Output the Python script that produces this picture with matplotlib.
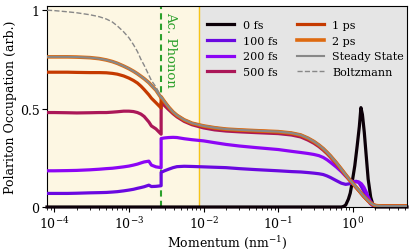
import matplotlib
matplotlib.use("Agg")
import matplotlib.pyplot as plt

plt.rcParams['font.family'] = ['DejaVu Serif']
plt.rcParams['mathtext.fontset'] = 'dejavuserif'
plt.rcParams['font.size'] = 9

# momentum grid (nm^-1), the phonon step appears twice
k = [8e-5, 1e-4, 1.5e-4, 2e-4, 3e-4, 4e-4, 5e-4, 6e-4, 7e-4, 8.5e-4,
     1e-3, 1.15e-3, 1.3e-3, 1.45e-3, 1.6e-3, 1.85e-3, 2.0e-3, 2.3e-3, 2.7e-3,
     2.7e-3, 3.0e-3, 3.4e-3, 3.9e-3, 4.4e-3, 5.5e-3, 7e-3,
     1e-2, 1.4e-2, 2e-2, 3e-2, 5e-2,
     0.1, 0.15, 0.2, 0.25, 0.3, 0.35, 0.4, 0.45, 0.5, 0.6, 0.7, 0.8, 0.9,
     1.0, 1.1, 1.2, 1.3, 1.4, 1.5, 1.6, 1.7, 1.8, 1.9, 2.0, 2.2, 2.5, 5.3]

occ_100fs = [0.069, 0.069, 0.069, 0.070, 0.072, 0.073, 0.074, 0.076, 0.078, 0.082,
             0.086, 0.090, 0.095, 0.099, 0.103, 0.111, 0.104, 0.105, 0.108,
             0.176, 0.184, 0.192, 0.200, 0.205, 0.207, 0.206,
             0.204, 0.202, 0.200, 0.195, 0.190,
             0.184, 0.180, 0.178, 0.175, 0.172, 0.169, 0.165, 0.158, 0.150, 0.134, 0.121, 0.115, 0.118,
             0.125, 0.131, 0.125, 0.103, 0.080, 0.058, 0.035, 0.018, 0.010, 0.007, 0.006, 0.005, 0.005, 0.005]
occ_200fs = [0.184, 0.184, 0.185, 0.186, 0.189, 0.192, 0.195, 0.197, 0.200, 0.204,
             0.208, 0.213, 0.218, 0.224, 0.229, 0.233, 0.213, 0.204, 0.200,
             0.348, 0.351, 0.353, 0.354, 0.353, 0.347, 0.342,
             0.336, 0.327, 0.318, 0.310, 0.302,
             0.292, 0.283, 0.277, 0.272, 0.267, 0.261, 0.252, 0.240, 0.227, 0.203, 0.180, 0.157, 0.139,
             0.129, 0.128, 0.127, 0.118, 0.101, 0.078, 0.052, 0.031, 0.018, 0.011, 0.007, 0.006, 0.005, 0.005]
occ_500fs = [0.480, 0.480, 0.479, 0.478, 0.479, 0.480, 0.480, 0.482, 0.484, 0.487,
             0.487, 0.485, 0.480, 0.472, 0.460, 0.432, 0.412, 0.397, 0.370,
             0.530, 0.515, 0.495, 0.474, 0.458, 0.435, 0.418,
             0.402, 0.392, 0.386, 0.382, 0.378,
             0.373, 0.366, 0.356, 0.340, 0.324, 0.307, 0.289, 0.271, 0.253, 0.219, 0.188, 0.160, 0.136,
             0.117, 0.099, 0.083, 0.067, 0.053, 0.041, 0.030, 0.021, 0.015, 0.010, 0.007, 0.006, 0.005, 0.005]
occ_1ps = [0.685, 0.685, 0.685, 0.684, 0.683, 0.683, 0.682, 0.679, 0.675, 0.666,
           0.655, 0.643, 0.630, 0.614, 0.597, 0.570, 0.553, 0.530, 0.503,
           0.555, 0.533, 0.506, 0.481, 0.464, 0.441, 0.424,
           0.410, 0.401, 0.394, 0.390, 0.386,
           0.381, 0.374, 0.364, 0.348, 0.331, 0.313, 0.295, 0.276, 0.258, 0.223, 0.191, 0.163, 0.139,
           0.119, 0.101, 0.084, 0.068, 0.054, 0.042, 0.031, 0.022, 0.015, 0.010, 0.007, 0.006, 0.005, 0.005]
occ_2ps = [0.763, 0.763, 0.763, 0.762, 0.759, 0.754, 0.747, 0.739, 0.730, 0.716,
           0.703, 0.690, 0.677, 0.664, 0.652, 0.632, 0.618, 0.594, 0.555,
           0.560, 0.535, 0.508, 0.483, 0.466, 0.443, 0.426,
           0.412, 0.403, 0.396, 0.392, 0.388,
           0.383, 0.376, 0.366, 0.350, 0.333, 0.315, 0.297, 0.278, 0.260, 0.225, 0.193, 0.164, 0.140,
           0.120, 0.102, 0.085, 0.069, 0.055, 0.043, 0.032, 0.023, 0.016, 0.011, 0.008, 0.006, 0.005, 0.005]
occ_steady = [0.763, 0.763, 0.763, 0.762, 0.759, 0.754, 0.747, 0.739, 0.730, 0.716,
              0.703, 0.690, 0.677, 0.664, 0.652, 0.632, 0.618, 0.594, 0.555,
              0.560, 0.535, 0.508, 0.483, 0.466, 0.443, 0.426,
              0.412, 0.403, 0.396, 0.392, 0.388,
              0.383, 0.376, 0.366, 0.350, 0.333, 0.315, 0.297, 0.278, 0.260, 0.225, 0.193, 0.164, 0.140,
              0.120, 0.102, 0.085, 0.069, 0.055, 0.043, 0.032, 0.023, 0.016, 0.011, 0.008, 0.006, 0.005, 0.005]

# initial pump (0 fs)
k_0fs = [8e-5, 0.7, 0.75, 0.8, 0.87, 0.92, 0.96, 1.0, 1.06, 1.14, 1.22, 1.28,
         1.34, 1.42, 1.5, 1.6, 1.73, 1.87, 2.0, 5.3]
occ_0fs = [0, 0, 0.003, 0.01, 0.04, 0.07, 0.108, 0.15, 0.21, 0.31, 0.41, 0.505,
           0.47, 0.38, 0.27, 0.142, 0.05, 0.007, 0, 0]

k_boltz = [8e-5, 1e-4, 1.5e-4, 2e-4, 3e-4, 4e-4, 5e-4, 6e-4, 7e-4, 8.5e-4,
           1e-3, 1.15e-3, 1.3e-3, 1.45e-3, 1.6e-3, 1.85e-3, 2.0e-3, 2.3e-3, 2.7e-3]
occ_boltz = [1.0, 0.998, 0.992, 0.987, 0.977, 0.967, 0.955, 0.94, 0.92, 0.89,
             0.86, 0.825, 0.79, 0.75, 0.72, 0.67, 0.643, 0.61, 0.56]

k_phonon = 2.7e-3
k_split = 8.7e-3

series = [
    ("0 fs", k_0fs, occ_0fs, "#0c0008"),
    ("100 fs", k, occ_100fs, "#6a08e0"),
    ("200 fs", k, occ_200fs, "#8c05f5"),
    ("500 fs", k, occ_500fs, "#ab1758"),
    ("1 ps", k, occ_1ps, "#c53a00"),
    ("2 ps", k, occ_2ps, "#de6a10"),
]

fig = plt.figure(figsize=(4.15, 2.51), dpi=100)
ax = fig.add_axes([0.1133, 0.1713, 0.8674, 0.7997])

ax.axvspan(8e-5, k_split, color="#fdf7e3", zorder=0)
ax.axvspan(k_split, 5.3, color="#e5e5e5", zorder=0)
ax.axvline(k_split, color="#f7c517", lw=1.0, zorder=1)
ax.axvline(k_phonon, color="#2ca02c", lw=1.5, ls=(0, (3, 2)), zorder=1)
ax.text(k_phonon * 1.08, 0.995, "Ac. Phonon", color="#2ca02c", rotation=270,
        ha="left", va="top", fontsize=9.5)

for label, xs, ys, c in series:
    ax.plot(xs, ys, color=c, lw=2.3 if label != "2 ps" else 2.6, label=label,
            clip_on=(label != "0 fs"), zorder=3)
ax.plot(k, occ_steady, color="#888888", lw=1.5, label="Steady State", zorder=4)
ax.plot(k_boltz, occ_boltz, color="#888888", lw=1.0, ls="--", label="Boltzmann", zorder=4)

ax.set_xscale("log")
ax.set_xlim(8e-5, 5.3)
ax.set_ylim(0, 1.02)
ax.set_yticks([0, 0.5, 1])
ax.set_yticklabels(["0", "0.5", "1"])
ax.tick_params(which="major", length=3.5, labelsize=9, pad=2)
ax.tick_params(which="minor", length=2)
ax.set_xlabel("Momentum (nm$^{-1}$)", fontsize=9, labelpad=2)
ax.set_ylabel("Polariton Occupation (arb.)", fontsize=9, labelpad=2)

ax.legend(loc="upper right", ncol=2, frameon=False, fontsize=8,
          handlelength=2.4, handletextpad=0.8, columnspacing=1.75, labelspacing=0.5,
          bbox_to_anchor=(1.02, 0.98))

fig.savefig("out.png", dpi=100)
